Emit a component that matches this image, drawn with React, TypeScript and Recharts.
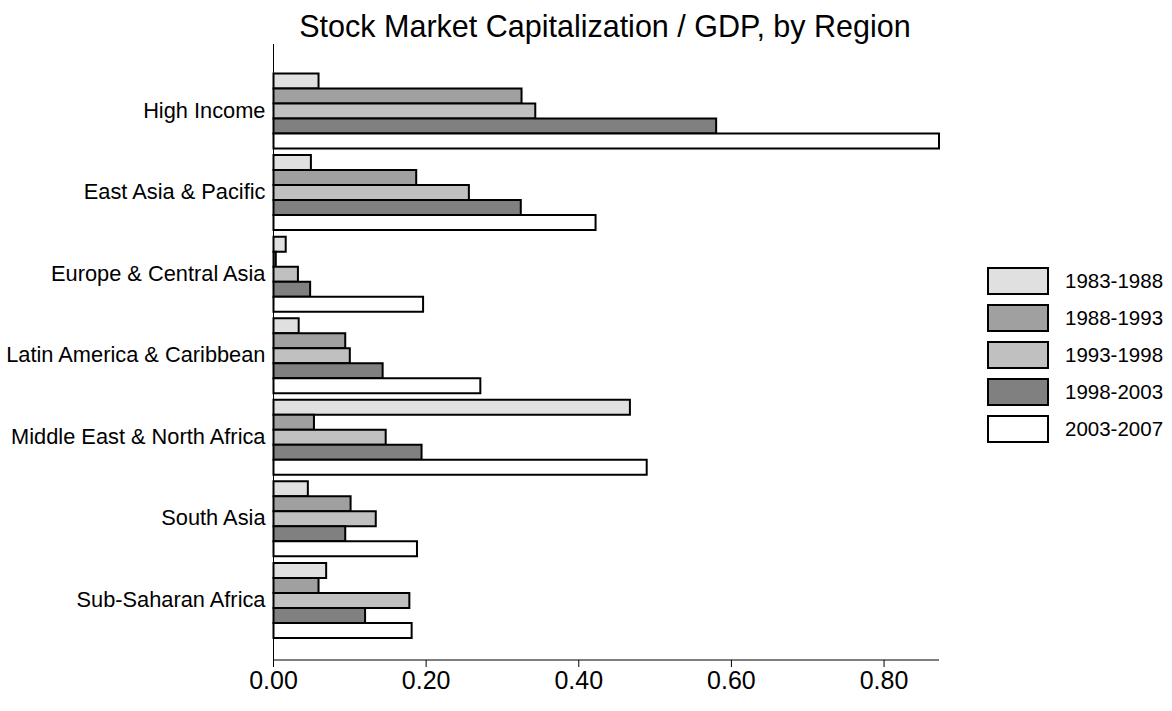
import { Bar, BarChart, Legend, XAxis, YAxis } from "recharts";

const regions = [
  "High Income",
  "East Asia & Pacific",
  "Europe & Central Asia",
  "Latin America & Caribbean",
  "Middle East & North Africa",
  "South Asia",
  "Sub-Saharan Africa",
];

const periods = ["1983-1988", "1988-1993", "1993-1998", "1998-2003", "2003-2007"];
const fills = ["#e0e0e0", "#a0a0a0", "#c0c0c0", "#808080", "#ffffff"];

const p1983 = [0.059, 0.049, 0.016, 0.033, 0.467, 0.045, 0.069];
const p1988 = [0.325, 0.187, 0.003, 0.094, 0.053, 0.101, 0.059];
const p1993 = [0.343, 0.256, 0.032, 0.1, 0.147, 0.134, 0.178];
const p1998 = [0.58, 0.324, 0.048, 0.143, 0.194, 0.094, 0.12];
const p2003 = [0.872, 0.422, 0.196, 0.271, 0.489, 0.188, 0.181];

const xTicks = [0, 0.2, 0.4, 0.6, 0.8];

const seriesValues = [p1983, p1988, p1993, p1998, p2003];
const data = regions.map((region, i) => {
  const row: Record<string, string | number> = { region };
  periods.forEach((p, j) => {
    row[p] = seriesValues[j][i];
  });
  return row;
});

const font = "'Liberation Sans', Arial, sans-serif";

const LegendBox = () => (
  <div style={{ fontFamily: font, fontSize: 20.5, color: "#000" }}>
    {periods.map((p, i) => (
      <div key={p} style={{ display: "flex", alignItems: "center", height: 37 }}>
        <div
          style={{
            width: 58,
            height: 24,
            background: fills[i],
            border: "2px solid #000",
            marginRight: 16,
          }}
        />
        <span>{p}</span>
      </div>
    ))}
  </div>
);

export default function App() {
  return (
    <div style={{ position: "absolute", left: 0, top: 0, background: "#fff" }}>
      <BarChart
        width={1172}
        height={711}
        data={data}
        layout="vertical"
        margin={{ top: 44, right: 233, bottom: 6, left: 0 }}
        barCategoryGap={4.5}
        barGap={0}
      >
        <text
          x={605}
          y={37}
          textAnchor="middle"
          fontFamily={font}
          fontSize={30.5}
          fill="#000"
        >
          Stock Market Capitalization / GDP, by Region
        </text>
        <XAxis
          type="number"
          domain={[0, "dataMax"]}
          ticks={xTicks}
          tickFormatter={(v: number) => v.toFixed(2)}
          height={45}
          stroke="#000"
          tickSize={7}
          tickMargin={4}
          tick={{ fill: "#000", fontSize: 25, fontFamily: font }}
        />
        <YAxis
          type="category"
          dataKey="region"
          width={273.5}
          stroke="#000"
          tickLine={false}
          tickSize={0}
          tickMargin={8}
          padding={{ top: 25, bottom: 20 }}
          tick={{ fill: "#000", fontSize: 21.8, fontFamily: font }}
        />
        <Legend
          layout="vertical"
          align="center"
          verticalAlign="middle"
          wrapperStyle={{ left: 987, top: 262, width: 185 }}
          content={() => <LegendBox />}
        />
        {periods.map((p, i) => (
          <Bar
            key={p}
            dataKey={p}
            fill={fills[i]}
            stroke="#000"
            strokeWidth={2}
            isAnimationActive={false}
          />
        ))}
      </BarChart>
    </div>
  );
}
